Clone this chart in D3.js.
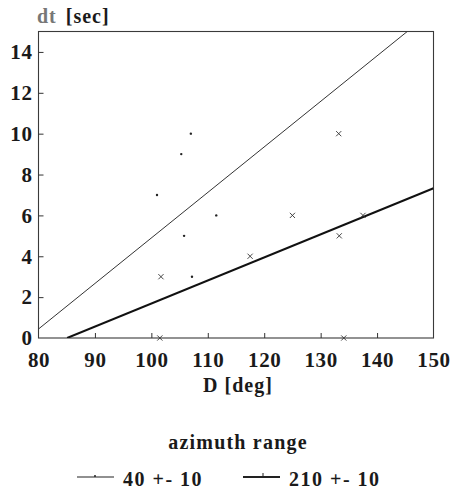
<!DOCTYPE html>
<html>
<head>
<meta charset="utf-8">
<script src="https://cdn.jsdelivr.net/npm/d3@7"></script>
<style>
  html, body { margin: 0; padding: 0; background: #fff; }
  svg { display: block; }
  text { font-family: "Liberation Serif", "DejaVu Serif", serif; font-weight: bold; fill: #1a1a1a; }
</style>
</head>
<body>
<svg id="chart" width="451" height="490"></svg>
<script>
// ---- data ----
const xTicks = [80, 90, 100, 110, 120, 130, 140, 150];
const yTicks = [0, 2, 4, 6, 8, 10, 12, 14];

// azimuth 40 +- 10 (dots)
const dotD  = [101, 105.3, 107, 111.5, 105.8, 107.2];
const dotDt = [7, 9, 10, 6, 5, 3];

// azimuth 210 +- 10 (crosses)
const crossD  = [101.7, 101.5, 117.5, 125, 133.2, 133.3, 137.5, 134.1];
const crossDt = [3, 0, 4, 6, 10, 5, 6, 0];

// fitted lines
const fit40D   = [80, 145.35];
const fit40Dt  = [0.44, 15];
const fit210D  = [85.07, 150];
const fit210Dt = [0, 7.33];

const legendLabels = ["40 +- 10", "210 +- 10"];

// ---- drawing ----
const svg = d3.select("#chart");
const x = d3.scaleLinear().domain([80, 150]).range([38.5, 433.5]);
const y = d3.scaleLinear().domain([0, 15]).range([338, 31.5]);

// frame
svg.append("rect")
  .attr("x", x(80)).attr("y", y(15))
  .attr("width", x(150) - x(80)).attr("height", y(0) - y(15))
  .attr("fill", "none").attr("stroke", "#3a3a3a").attr("stroke-width", 1.1);

// axes (ticks inward)
const xAxis = svg.append("g").attr("transform", `translate(0,${y(0)})`)
  .call(d3.axisBottom(x).tickValues(xTicks).tickSize(-5).tickPadding(14).tickFormat(d3.format("d")));
const yAxis = svg.append("g").attr("transform", `translate(${x(80)},0)`)
  .call(d3.axisLeft(y).tickValues(yTicks).tickSize(-5).tickPadding(6).tickFormat(d3.format("d")));
[xAxis, yAxis].forEach(g => {
  g.select(".domain").remove();
  g.selectAll(".tick line").attr("stroke", "#333");
  g.selectAll("text").attr("font-size", 21).attr("font-family", "Liberation Serif, serif")
    .attr("font-weight", "bold").attr("fill", "#111").attr("letter-spacing", 0.6);
});
// hide end ticks lines at frame corners
xAxis.selectAll(".tick").filter(d => d === 80 || d === 150).select("line").remove();
yAxis.selectAll(".tick").filter(d => d === 0).select("line").remove();

// clip to plot
svg.append("clipPath").attr("id", "clip").append("rect")
  .attr("x", x(80)).attr("y", y(15)).attr("width", x(150) - x(80)).attr("height", y(0) - y(15));

const line = d3.line().x(d => x(d[0])).y(d => y(d[1]));
const plot = svg.append("g").attr("clip-path", "url(#clip)");

plot.append("path")
  .attr("d", line(fit40D.map((d, i) => [d, fit40Dt[i]])))
  .attr("fill", "none").attr("stroke", "#333").attr("stroke-width", 1);
plot.append("path")
  .attr("d", line(fit210D.map((d, i) => [d, fit210Dt[i]])))
  .attr("fill", "none").attr("stroke", "#111").attr("stroke-width", 2);

// dots
svg.append("g").selectAll("circle")
  .data(dotD.map((d, i) => [d, dotDt[i]]))
  .join("circle")
  .attr("cx", d => x(d[0])).attr("cy", d => y(d[1]))
  .attr("r", 1.2).attr("fill", "#222");

// crosses
const cs = 2.6;
svg.append("g").selectAll("path")
  .data(crossD.map((d, i) => [d, crossDt[i]]))
  .join("path")
  .attr("d", d => {
    const cx = x(d[0]), cy = y(d[1]);
    return `M${cx - cs},${cy - cs}L${cx + cs},${cy + cs}M${cx - cs},${cy + cs}L${cx + cs},${cy - cs}`;
  })
  .attr("stroke", "#333").attr("stroke-width", 0.9).attr("fill", "none");

// axis titles
const yTitle = svg.append("text").attr("x", 37).attr("y", 23).attr("font-size", 20).attr("letter-spacing", 1);
yTitle.append("tspan").text("dt").attr("fill", "#777");
yTitle.append("tspan").text(" [sec]").attr("dx", 3);

svg.append("text").attr("x", 238).attr("y", 392).attr("text-anchor", "middle")
  .attr("font-size", 20).attr("letter-spacing", 1).text("D [deg]");

svg.append("text").attr("x", 238).attr("y", 449).attr("text-anchor", "middle")
  .attr("font-size", 20).attr("letter-spacing", 1.2).text("azimuth range");

// legend
const legX = [77, 243];
const legW = [1.2, 2];
legendLabels.forEach((lab, i) => {
  const g = svg.append("g");
  g.append("line").attr("x1", legX[i]).attr("x2", legX[i] + 37)
    .attr("y1", 477).attr("y2", 477).attr("stroke", "#222").attr("stroke-width", legW[i]);
  if (i === 0) {
    g.append("circle").attr("cx", legX[i] + 18).attr("cy", 476).attr("r", 1).attr("fill", "#222");
  } else {
    g.append("line").attr("x1", legX[i] + 20).attr("x2", legX[i] + 20)
      .attr("y1", 473).attr("y2", 477).attr("stroke", "#222").attr("stroke-width", 1);
  }
  g.append("text").attr("x", legX[i] + 46).attr("y", 486)
    .attr("font-size", 20).attr("letter-spacing", 1.5).text(lab);
});
</script>
</body>
</html>
